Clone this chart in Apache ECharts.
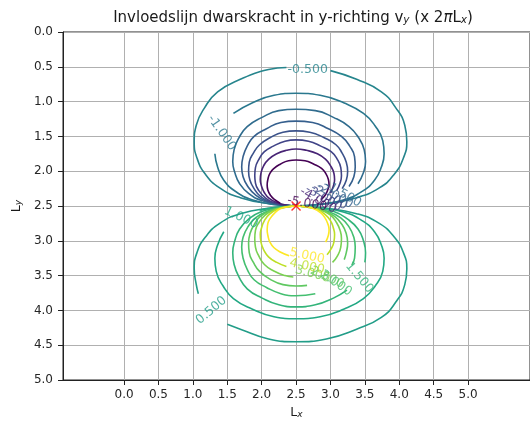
<!DOCTYPE html>
<html><head><meta charset="utf-8">
<script src="https://cdn.jsdelivr.net/npm/echarts@6/dist/echarts.min.js"></script>
<style>html,body{margin:0;padding:0;background:#fff}#c{width:530px;height:421px}</style>
</head><body><div id="c"></div>
<script>
// ---- tick values ----
const xTicks = [0,0.5,1,1.5,2,2.5,3,3.5,4,4.5,5];
const loadPoint = [[2.5, 2.5]];

// ---- contour lines (each level: list of segments, points [x, y]) ----
const levelM050 = [
  [[2.5,2.5],[2.13,2.47],[1.69,2.38],[1.39,2.24],[1.18,2.04],[1.06,1.81],[1.02,1.58],[1.05,1.34],[1.17,1.09],[1.36,0.86],[1.69,0.68],[2.10,0.54],[2.36,0.51]],
  [[3.0,0.555],[3.38,0.68],[3.74,0.86],[3.95,1.09],[4.08,1.34],[4.11,1.58],[4.06,1.81],[3.93,2.04],[3.71,2.24],[3.38,2.38],[2.91,2.47],[2.5,2.5]]
];
const levelM100 = [
  [[2.5,2.5],[2.20,2.48],[1.86,2.41],[1.62,2.29],[1.45,2.13],[1.36,1.94],[1.32,1.75]],
  [[1.59,1.17],[1.86,1.02],[2.18,0.91],[2.5,0.88],[2.85,0.91],[3.20,1.02],[3.48,1.17],[3.65,1.35],[3.76,1.56],[3.78,1.75],[3.74,1.94],[3.64,2.13],[3.46,2.29],[3.20,2.41],[2.82,2.48],[2.5,2.5]]
];
const levelM150 = [
  [[2.5,2.5],[2.27,2.48],[2.00,2.42],[1.81,2.32],[1.68,2.18],[1.61,2.02],[1.58,1.86],[1.60,1.69],[1.67,1.52],[1.79,1.36],[2.00,1.23],[2.25,1.13],[2.5,1.11],[2.78,1.13],[3.05,1.23],[3.27,1.36],[3.41,1.52],[3.49,1.69],[3.51,1.86],[3.48,2.02],[3.40,2.18]]
];
const levelM200 = [
  [[2.5,2.5],[2.30,2.48],[2.07,2.43],[1.91,2.34],[1.80,2.22],[1.73,2.08],[1.71,1.94],[1.73,1.79],[1.79,1.64],[1.89,1.50],[2.07,1.39],[2.28,1.30],[2.5,1.28],[2.74,1.30],[2.97,1.39],[3.16,1.50],[3.28,1.64],[3.35,1.79],[3.36,1.94],[3.34,2.08],[3.27,2.22]]
];
const levelM250 = [
  [[2.5,2.5],[2.33,2.49],[2.12,2.44],[1.98,2.36],[1.89,2.25],[1.83,2.13],[1.81,2.00],[1.82,1.87],[1.88,1.74],[1.97,1.62],[2.12,1.52],[2.31,1.44],[2.5,1.42],[2.70,1.44],[2.91,1.52],[3.08,1.62],[3.17,1.74],[3.23,1.87],[3.25,2.00],[3.23,2.13],[3.17,2.25]]
];
const levelM300 = [
  [[2.5,2.5],[2.35,2.49],[2.17,2.45],[2.05,2.38],[1.96,2.28],[1.91,2.17],[1.90,2.06],[1.91,1.95],[1.96,1.83],[2.04,1.72],[2.17,1.64],[2.34,1.57],[2.5,1.55],[2.68,1.57],[2.86,1.64],[3.01,1.72],[3.10,1.83],[3.15,1.95],[3.16,2.06],[3.14,2.17],[3.09,2.28]]
];
const levelM400 = [
  [[2.5,2.5],[2.37,2.49],[2.22,2.45],[2.11,2.39],[2.04,2.31],[2.00,2.22],[1.98,2.12],[1.99,2.03],[2.03,1.92],[2.10,1.83],[2.22,1.75],[2.36,1.70],[2.5,1.68],[2.65,1.70],[2.81,1.75],[2.93,1.83],[3.00,1.92],[3.05,2.03],[3.06,2.12],[3.04,2.22],[3.00,2.31]]
];
const levelM500 = [
  [[2.27,2.46],[2.19,2.41],[2.13,2.35],[2.09,2.27],[2.08,2.20],[2.09,2.12],[2.12,2.03],[2.18,1.96],[2.27,1.90],[2.39,1.85],[2.5,1.84],[2.63,1.85],[2.76,1.90],[2.87,1.96],[2.93,2.03],[2.97,2.12],[2.98,2.20],[2.96,2.27],[2.92,2.35],[2.86,2.41]]
];
const levelP050 = [
  [[2.5,2.5],[2.13,2.53],[1.69,2.61],[1.39,2.75],[1.18,2.95],[1.06,3.17],[1.02,3.40],[1.05,3.63],[1.08,3.76]],
  [[1.50,4.20],[1.69,4.27],[2.10,4.41],[2.5,4.45],[2.94,4.41],[3.38,4.27],[3.74,4.10],[3.95,3.88],[4.08,3.63],[4.11,3.40],[4.06,3.17],[3.93,2.95],[3.71,2.75],[3.38,2.61],[2.91,2.53],[2.5,2.5]]
];
const levelP100 = [
  [[2.5,2.5],[2.20,2.52],[1.97,2.56]],
  [[1.45,2.87],[1.36,3.06],[1.32,3.25],[1.34,3.44],[1.44,3.65],[1.59,3.83],[1.86,3.98],[2.18,4.09],[2.5,4.12],[2.85,4.09],[3.20,3.98],[3.48,3.83],[3.65,3.65],[3.76,3.44],[3.78,3.25],[3.74,3.06],[3.64,2.87],[3.46,2.71],[3.20,2.59],[2.82,2.52],[2.5,2.5]]
];
const levelP150 = [
  [[2.5,2.5],[2.27,2.52],[2.00,2.58],[1.81,2.69],[1.68,2.83],[1.61,3.00],[1.58,3.17],[1.60,3.34],[1.67,3.52],[1.79,3.69],[2.00,3.82],[2.25,3.92],[2.5,3.95],[2.78,3.92],[3.05,3.82],[3.24,3.71]],
  [[3.50,3.31],[3.51,3.17],[3.48,3.00],[3.40,2.83],[3.25,2.69],[3.05,2.58],[2.75,2.52],[2.5,2.5]]
];
const levelP200 = [
  [[2.5,2.5],[2.30,2.52],[2.07,2.58],[1.91,2.67],[1.80,2.80],[1.73,2.95],[1.71,3.09],[1.73,3.25],[1.79,3.41],[1.89,3.56],[2.07,3.67],[2.28,3.76],[2.5,3.79],[2.78,3.76]],
  [[3.31,3.35],[3.35,3.25],[3.36,3.09],[3.34,2.95],[3.27,2.80],[3.15,2.67],[2.97,2.58],[2.72,2.52],[2.5,2.5]]
];
const levelP250 = [
  [[2.5,2.5],[2.33,2.52],[2.12,2.57],[1.98,2.65],[1.89,2.77],[1.83,2.90],[1.81,3.03],[1.82,3.17],[1.88,3.31],[1.97,3.44],[2.12,3.55],[2.31,3.63],[2.5,3.65],[2.66,3.64]],
  [[3.20,3.27],[3.23,3.17],[3.25,3.03],[3.23,2.90],[3.17,2.77],[3.06,2.65],[2.91,2.57],[2.69,2.52],[2.5,2.5]]
];
const levelP300 = [
  [[2.5,2.5],[2.35,2.51],[2.17,2.56],[2.05,2.63],[1.96,2.74],[1.91,2.85],[1.90,2.97],[1.91,3.09],[1.96,3.22],[2.04,3.34],[2.17,3.43],[2.34,3.50],[2.46,3.52]],
  [[3.03,3.31],[3.10,3.22],[3.15,3.09],[3.16,2.97],[3.14,2.85],[3.09,2.74],[3.00,2.63],[2.86,2.56],[2.67,2.51],[2.5,2.5]]
];
const levelP400 = [
  [[2.5,2.5],[2.37,2.51],[2.22,2.55],[2.11,2.62],[2.04,2.71],[2.00,2.81],[1.98,2.91],[1.99,3.02],[2.03,3.13],[2.10,3.23],[2.22,3.31],[2.36,3.37]],
  [[2.95,3.20],[3.00,3.13],[3.05,3.02],[3.06,2.91],[3.04,2.81],[3.00,2.71],[2.92,2.62],[2.81,2.55],[2.64,2.51],[2.5,2.5]]
];
const levelP500 = [
  [[2.5,2.5],[2.39,2.51],[2.27,2.54],[2.19,2.60],[2.13,2.67],[2.09,2.75],[2.08,2.84],[2.09,2.92],[2.12,3.02],[2.18,3.10],[2.27,3.16],[2.40,3.215]],
  [[2.93,3.02],[2.97,2.92],[2.98,2.84],[2.96,2.75],[2.92,2.67],[2.86,2.60],[2.76,2.54],[2.62,2.51],[2.5,2.5]]
];

const contourLevels = [-0.5,-1,-1.5,-2,-2.5,-3,-4,-5,0.5,1,1.5,2,2.5,3,4,5];
const contourLines  = [levelM050,levelM100,levelM150,levelM200,levelM250,levelM300,levelM400,levelM500,
                       levelP050,levelP100,levelP150,levelP200,levelP250,levelP300,levelP400,levelP500];

// ---- inline contour labels ----
const labelLevel = [-0.5, -1, -1.5, -2, -2.5, -3, -4, -5, 0.5, 1, 1.5, 2, 2.5, 3, 4, 5];
const labelX     = [2.67, 1.42, 3.18, 3.06, 2.98, 2.90, 2.82, 2.66, 1.27, 1.70, 3.42, 3.08, 2.95, 2.74, 2.66, 2.66];
const labelY     = [0.54, 1.45, 2.33, 2.35, 2.37, 2.39, 2.42, 2.47, 4.00, 2.67, 3.53, 3.61, 3.53, 3.48, 3.37, 3.22];
const labelAngle = [0, -55, -30, -30, -30, -30, -30, -10, 40, -25, -50, -35, -25, -15, -12, -12];

// viridis colormap
const VIR = ['#440154','#482475','#414487','#355f8d','#2a788e','#21918c','#22a884','#44bf70','#7ad151','#bddf26','#fde725'];
function hex2rgb(h){return [parseInt(h.substr(1,2),16),parseInt(h.substr(3,2),16),parseInt(h.substr(5,2),16)];}
function viridis(t){
  t=Math.max(0,Math.min(1,t)); const p=t*10; const i=Math.min(9,Math.floor(p)); const f=p-i;
  const a=hex2rgb(VIR[i]), b=hex2rgb(VIR[i+1]);
  return 'rgb('+a.map((v,k)=>Math.round(v+(b[k]-v)*f)).join(',')+')';
}
const vmin=-5, vmax=5;
const colorOf = v => viridis((v-vmin)/(vmax-vmin));

const series = [];
contourLines.forEach((segs, li) => {
  const col = colorOf(contourLevels[li]);
  segs.forEach(seg => {
    series.push({type:'line', data: seg, showSymbol:false, symbol:'none', smooth:0.5,
      lineStyle:{color:col, width:1.6}, silent:true, animation:false, z:2});
  });
});
series.push({
  type:'scatter', symbolSize:0, silent:true, animation:false, z:3,
  data: labelLevel.map((lv,i)=>({value:[labelX[i],labelY[i]],
    label:{show:true, position:'inside', formatter: lv.toFixed(3), rotate: labelAngle[i], color: colorOf(lv)}})),
  label:{fontSize:12.5, fontFamily:'DejaVu Sans', align:'center', verticalAlign:'middle'}
});
series.push({
  type:'scatter', data: loadPoint, symbol:'path://M0,0L10,10M10,0L0,10', symbolSize:9,
  itemStyle:{color:'none', borderColor:'#ff0000', borderWidth:1.4}, silent:true, animation:false, z:4
});

const font = 'DejaVu Sans';
const chart = echarts.init(document.getElementById('c'), null, {renderer:'canvas'});
chart.setOption({
  animation:false,
  backgroundColor:'#fff',
  title:{
    text:'Invloedslijn dwarskracht in y-richting v{s|y} (x 2{i|π}L{s|x})',
    left:288, top:6, textAlign:'center',
    textStyle:{fontFamily:font, fontSize:15, fontWeight:'normal', color:'#1a1a1a',
      rich:{s:{fontFamily:font, fontSize:10.5, fontStyle:'italic', color:'#1a1a1a', verticalAlign:'bottom', lineHeight:12},
            i:{fontFamily:font, fontSize:15, fontStyle:'italic', color:'#1a1a1a'}}}
  },
  grid:{left:63, top:32, width:467, height:348, show:true, borderColor:'#222', borderWidth:1,
        backgroundColor:'transparent', containLabel:false, outerBoundsMode:'none'},
  xAxis:{
    type:'value', min:-0.887, max:5.9,
    name:'L{s|x}', nameLocation:'middle', nameGap:25,
    nameTextStyle:{fontFamily:font, fontSize:12.5, color:'#1a1a1a',
      rich:{s:{fontFamily:font, fontSize:9, fontStyle:'italic', color:'#1a1a1a', verticalAlign:'bottom', lineHeight:10}}},
    axisLine:{show:true, onZero:false, lineStyle:{color:'#222', width:1}},
    axisTick:{show:true, customValues:xTicks, length:5, lineStyle:{color:'#222'}},
    axisLabel:{customValues:xTicks, formatter:v=>Number(v).toFixed(1), color:'#262626', fontFamily:font, fontSize:12, margin:9},
    splitLine:{show:true, lineStyle:{color:'#b0b0b0', width:1}}
  },
  yAxis:{
    type:'value', min:0, max:5, interval:0.5, inverse:true,
    name:'L{s|y}', nameLocation:'middle', nameGap:38, nameRotate:90,
    nameTextStyle:{fontFamily:font, fontSize:12.5, color:'#1a1a1a',
      rich:{s:{fontFamily:font, fontSize:9, fontStyle:'italic', color:'#1a1a1a', verticalAlign:'bottom', lineHeight:10}}},
    axisLine:{show:true, onZero:false, lineStyle:{color:'#222', width:1}},
    axisTick:{show:true, length:5, lineStyle:{color:'#222'}},
    axisLabel:{formatter:v=>Number(v).toFixed(1), color:'#262626', fontFamily:font, fontSize:12, margin:10},
    splitLine:{show:true, lineStyle:{color:'#b0b0b0', width:1}}
  },
  series: series
});
</script></body></html>
